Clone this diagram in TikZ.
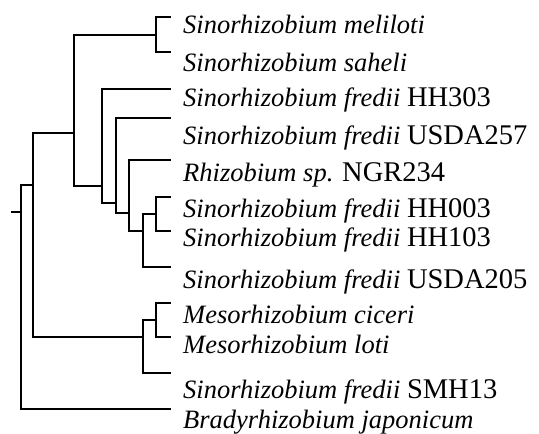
\documentclass[tikz,border=0pt]{standalone}
\usepackage{fontspec}
\setmainfont{Liberation Serif}
\newcommand{\strainid}[1]{{\fontsize{28.5}{32}\selectfont #1}}
\begin{document}
\begin{tikzpicture}[x=1pt,y=-1pt,
  branch/.style={line width=1.7pt,line cap=rect},
  heavy/.style={line width=2.6pt,line cap=rect},
  taxon/.style={anchor=base west,inner sep=0pt,font=\fontsize{26.5}{32}\selectfont}]
\useasboundingbox (0,0) rectangle (539,434);
% leaf tips
\coordinate (t1) at (170,17);
\coordinate (t2) at (170,52);
\coordinate (t3) at (170,89);
\coordinate (t4) at (170,118);
\coordinate (t5) at (170,160);
\coordinate (t6) at (170,197);
\coordinate (t7) at (170,231);
\coordinate (t8) at (170,267);
\coordinate (t9) at (170,303);
\coordinate (t10) at (170,337);
\coordinate (t11) at (170,373);
\coordinate (t12) at (170,409);
% internal nodes (x of vertical bar, y of stem)
\coordinate (A) at (156,35);
\coordinate (B) at (156,214);
\coordinate (C) at (143,231);
\coordinate (D) at (129,213);
\coordinate (E) at (116,203);
\coordinate (F) at (102,186);
\coordinate (G) at (74,133);
\coordinate (H) at (156,320);
\coordinate (I) at (143,337);
\coordinate (J) at (33,185);
\coordinate (K) at (21,212);
\coordinate (root) at (12,212);
% labels
\node[taxon] (n1) at (183,33) {\textit{Sinorhizobium meliloti}};
\node[taxon] (n2) at (183,71) {\textit{Sinorhizobium saheli}};
\node[taxon] (n3) at (183,106) {\textit{Sinorhizobium fredii} \strainid{HH303}};
\node[taxon] (n4) at (183,144) {\textit{Sinorhizobium fredii} \strainid{USDA257}};
\node[taxon] (n5) at (183,181) {\textit{Rhizobium sp.} \strainid{NGR234}};
\node[taxon] (n6) at (183,217) {\textit{Sinorhizobium fredii} \strainid{HH003}};
\node[taxon] (n7) at (183,246) {\textit{Sinorhizobium fredii} \strainid{HH103}};
\node[taxon] (n8) at (183,288) {\textit{Sinorhizobium fredii} \strainid{USDA205}};
\node[taxon] (n9) at (183,323) {\textit{Mesorhizobium ciceri}};
\node[taxon] (n10) at (183,353) {\textit{Mesorhizobium loti}};
\node[taxon] (n11) at (183,398) {\textit{Sinorhizobium fredii} \strainid{SMH13}};
\node[taxon] (n12) at (183,428) {\textit{Bradyrhizobium japonicum}};
% tree
\draw[branch] (t1) -- (t1 -| A) -- (t2 -| A) -- (t2);
\draw[branch] (t6) -- (t6 -| B) -- (t7 -| B) -- (t7);
\draw[branch] (B) -- (B -| C) -- (t8 -| C) -- (t8);
\draw[branch] (t5) -- (t5 -| D) -- (C -| D) -- (C);
\draw[branch] (t4) -- (t4 -| E) -- (D -| E) -- (D);
\draw[branch] (t3) -- (t3 -| F) -- (E -| F) -- (E);
\draw[branch] (A) -- (A -| G) -- (F -| G) -- (F);
\draw[branch] (t9) -- (t9 -| H) -- (t10 -| H) -- (t10);
\draw[branch] (H) -- (H -| I) -- (t11 -| I) -- (t11);
\draw[branch] (G) -- (G -| J) -- (I -| J) -- (I);
\draw[branch] (J) -- (J -| K) -- (t12 -| K);
\draw[heavy] (t12 -| K) -- (t12);
\draw[branch] (root) -- (K);
\end{tikzpicture}
\end{document}
